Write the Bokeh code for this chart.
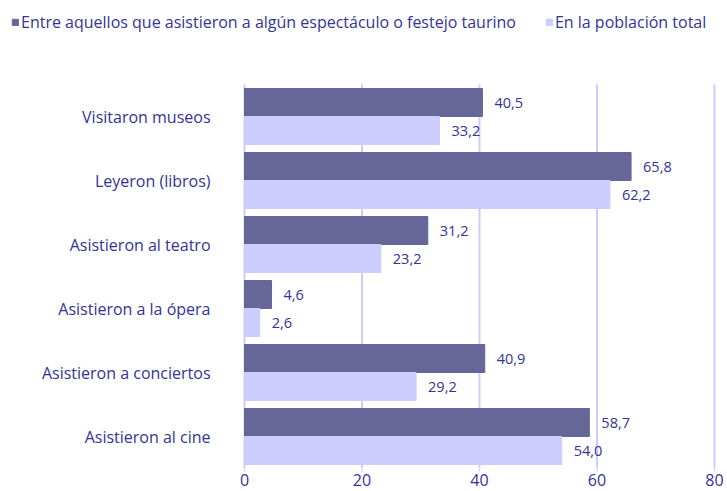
from bokeh.plotting import figure
from bokeh.models import Range1d, Legend, LegendItem, ColumnDataSource, LabelSet
from bokeh.core.properties import value
from bokeh.embed import file_html
from bokeh.resources import INLINE

categories = ["Visitaron museos", "Leyeron (libros)", "Asistieron al teatro",
              "Asistieron a la ópera", "Asistieron a conciertos", "Asistieron al cine"]
taurino = [40.5, 65.8, 31.2, 4.6, 40.9, 58.7]
total = [33.2, 62.2, 23.2, 2.6, 29.2, 54.0]
series_names = ["Entre aquellos que asistieron a algún espectáculo o festejo taurino",
                "En la población total"]
x_ticks = [0, 20, 40, 60, 80]

DARK = "#666699"
LIGHT = "#ccccff"
TXT = "#333399"
FONT = "Open Sans"

# layout constants (pixels)
W, FH = 727, 468
X0_PX, X80_PX = 244, 714
BAND = 64
PXU = (X80_PX - X0_PX) / 80.0

n = len(categories)
ypos = [n - i - 0.5 for i in range(n)]
bh = 0.4375

src = ColumnDataSource(dict(
    cat=categories, y=ypos,
    y1=[y + bh / 2 for y in ypos], y2=[y - bh / 2 for y in ypos],
    taurino=taurino, total=total,
    tl=[f"{v:.1f}".replace(".", ",") for v in taurino],
    ol=[f"{v:.1f}".replace(".", ",") for v in total],
    zero=[0] * n,
))
grid_src = ColumnDataSource(dict(x=x_ticks, y0=[0] * len(x_ticks), y1=[n] * len(x_ticks)))

p = figure(x_range=Range1d(-X0_PX / PXU, (W - X0_PX) / PXU),
           y_range=Range1d(0, FH / BAND),
           frame_width=W, frame_height=FH,
           min_border_left=0, min_border_right=0, min_border_top=0, min_border_bottom=23,
           output_backend="svg", toolbar_location=None)
p.outline_line_color = None
p.background_fill_color = "white"
p.yaxis.visible = False
p.xgrid.grid_line_color = None
p.ygrid.grid_line_color = None

# vertical grid lines (and the zero axis line)
p.segment(x0="x", x1="x", y0="y0", y1="y1", source=grid_src, line_color=LIGHT, line_width=2)

r1 = p.hbar(y="y1", right="taurino", left="zero", height=bh, color=DARK, source=src)
r2 = p.hbar(y="y2", right="total", left="zero", height=bh, color=LIGHT, source=src)

for col, lab, yc in (("taurino", "tl", "y1"), ("total", "ol", "y2")):
    p.add_layout(LabelSet(x=col, y=yc, text=lab, source=src,
                          x_offset=12, text_baseline="middle", text_align="left",
                          text_font_size=value("14.5px"), text_color=TXT, text_font=value(FONT)))

# category labels
p.add_layout(LabelSet(x="zero", y="y", text="cat", source=src, x_offset=-34,
                      text_baseline="middle", text_align="right",
                      text_font_size=value("16px"), text_color=TXT, text_font=value(FONT)))

p.xaxis.ticker = x_ticks
p.xaxis.axis_line_color = None
p.xaxis.major_tick_line_color = LIGHT
p.xaxis.major_tick_in = 0
p.xaxis.major_tick_out = 3
p.xaxis.minor_tick_line_color = None
p.xaxis.major_label_standoff = 2
p.xaxis.major_label_text_font = FONT
p.xaxis.major_label_text_font_size = "16px"
p.xaxis.major_label_text_color = TXT

legend = Legend(items=[LegendItem(label=series_names[0], renderers=[r1]),
                       LegendItem(label=series_names[1], renderers=[r2])],
                orientation="horizontal", location="top_left",
                padding=0, margin=11, spacing=29, label_standoff=2,
                glyph_width=8, glyph_height=8,
                label_text_font=FONT, label_text_font_size="16px", label_text_color=TXT,
                border_line_color=None, background_fill_alpha=0)
p.add_layout(legend, "center")

open("out.html", "w").write(file_html(p, INLINE))
